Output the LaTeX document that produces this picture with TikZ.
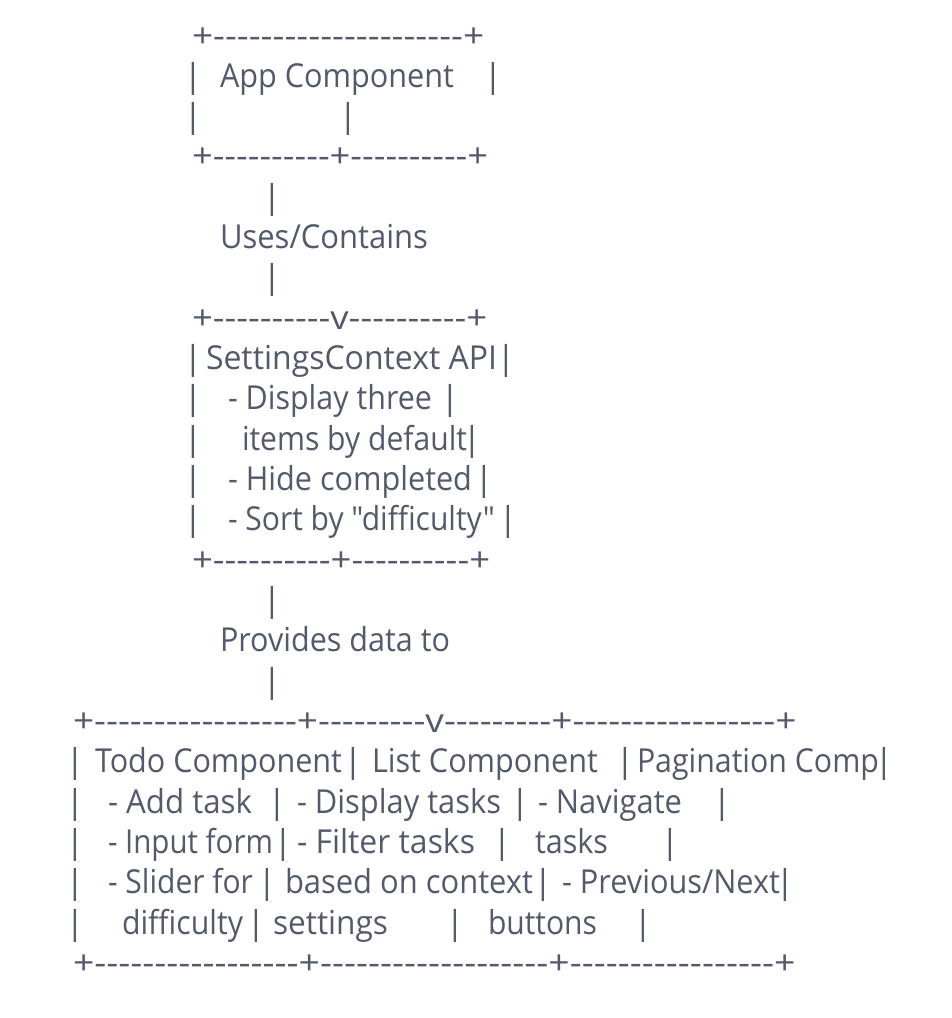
\documentclass[tikz,border=0pt]{standalone}
\usepackage{fontspec}
\setmainfont{Open Sans}[Ligatures=TeXOff]
\usepackage{graphicx}
\definecolor{ink}{HTML}{535A6B}
\tikzset{txt/.style={inner sep=0pt, outer sep=0pt, text=ink, font=\fontsize{33}{40}\selectfont}}
\newcommand\rowy[1]{{47+40.33*(#1-1)}}
% segment of text fitted between left and right x on a given row
\newcommand\seg[5]{\pgfmathsetmacro\segw{#3-#2}%
  \node[txt,anchor=base west] (#1) at (#2,\rowy{#4}) {\resizebox{\segw pt}{\height}{#5}};}
\newcommand\pipe[3]{\node[txt,anchor=base] (#1) at (#2,\rowy{#3}) {|};}
\begin{document}
\begin{tikzpicture}[x=1pt,y=-1pt]
\fill[white] (0,0) rectangle (952,1018);
\useasboundingbox (0,0) rectangle (952,1018);
% App component box
\seg{r1}{192}{484}{1}{+---------------------+}
\pipe{p2a}{193}{2}\seg{t2}{220}{454}{2}{App Component}\pipe{p2b}{493}{2}
\pipe{p3a}{193}{3}\pipe{p3b}{348}{3}
\seg{r4}{192}{488}{4}{+----------+----------+}
\pipe{p5}{272}{5}
\seg{t6}{220}{428}{6}{Uses/Contains}
\pipe{p7}{272}{7}
\seg{r8}{192}{487}{8}{+----------v----------+}
% SettingsContext box
\pipe{p9a}{193}{9}\seg{t9}{206}{497}{9}{SettingsContext API}\pipe{p9b}{506}{9}
\pipe{p10a}{193}{10}\seg{t10}{228}{432}{10}{- Display three}\pipe{p10b}{450}{10}
\pipe{p11a}{193}{11}\seg{t11}{242}{467}{11}{items by default}\pipe{p11b}{472}{11}
\pipe{p12a}{193}{12}\seg{t12}{228}{472}{12}{- Hide completed}\pipe{p12b}{484}{12}
\pipe{p13a}{193}{13}\seg{t13}{228}{495}{13}{- Sort by "difficulty"}\pipe{p13b}{508}{13}
\seg{r14}{192}{490}{14}{+----------+----------+}
\pipe{p15}{272}{15}
\seg{t16}{220}{450}{16}{Provides data to}
\pipe{p17}{272}{17}
% bottom table
\seg{r18}{73}{796}{18}{+-----------------+---------v---------+-----------------+}
\pipe{p19a}{75}{19}\seg{t19a}{95}{342}{19}{Todo Component}\pipe{p19b}{353}{19}%
\seg{t19b}{372}{598}{19}{List Component}\pipe{p19c}{625}{19}%
\seg{t19c}{637}{879}{19}{Pagination Comp}\pipe{p19d}{884}{19}
\pipe{p20a}{75}{20}\seg{t20a}{108}{252}{20}{- Add task}\pipe{p20b}{277}{20}%
\seg{t20b}{297}{501}{20}{- Display tasks}\pipe{p20c}{520}{20}%
\seg{t20c}{538}{682}{20}{- Navigate}\pipe{p20d}{722}{20}
\pipe{p21a}{75}{21}\seg{t21a}{108}{273}{21}{- Input form}\pipe{p21b}{283}{21}%
\seg{t21b}{297}{475}{21}{- Filter tasks}\pipe{p21c}{502}{21}%
\seg{t21c}{535}{608}{21}{tasks}\pipe{p21d}{670}{21}
\pipe{p22a}{75}{22}\seg{t22a}{108}{253}{22}{- Slider for}\pipe{p22b}{267}{22}%
\seg{t22b}{285}{533}{22}{based on context}\pipe{p22c}{543}{22}%
\seg{t22c}{562}{780}{22}{- Previous/Next}\pipe{p22d}{785}{22}
\pipe{p23a}{75}{23}\seg{t23a}{122}{243}{23}{difficulty}\pipe{p23b}{256}{23}%
\seg{t23b}{273}{388}{23}{settings}\pipe{p23c}{455}{23}%
\seg{t23c}{488}{597}{23}{buttons}\pipe{p23d}{643}{23}
\seg{r24}{73}{795}{24}{+-----------------+-------------------+-----------------+}
\end{tikzpicture}
\end{document}
